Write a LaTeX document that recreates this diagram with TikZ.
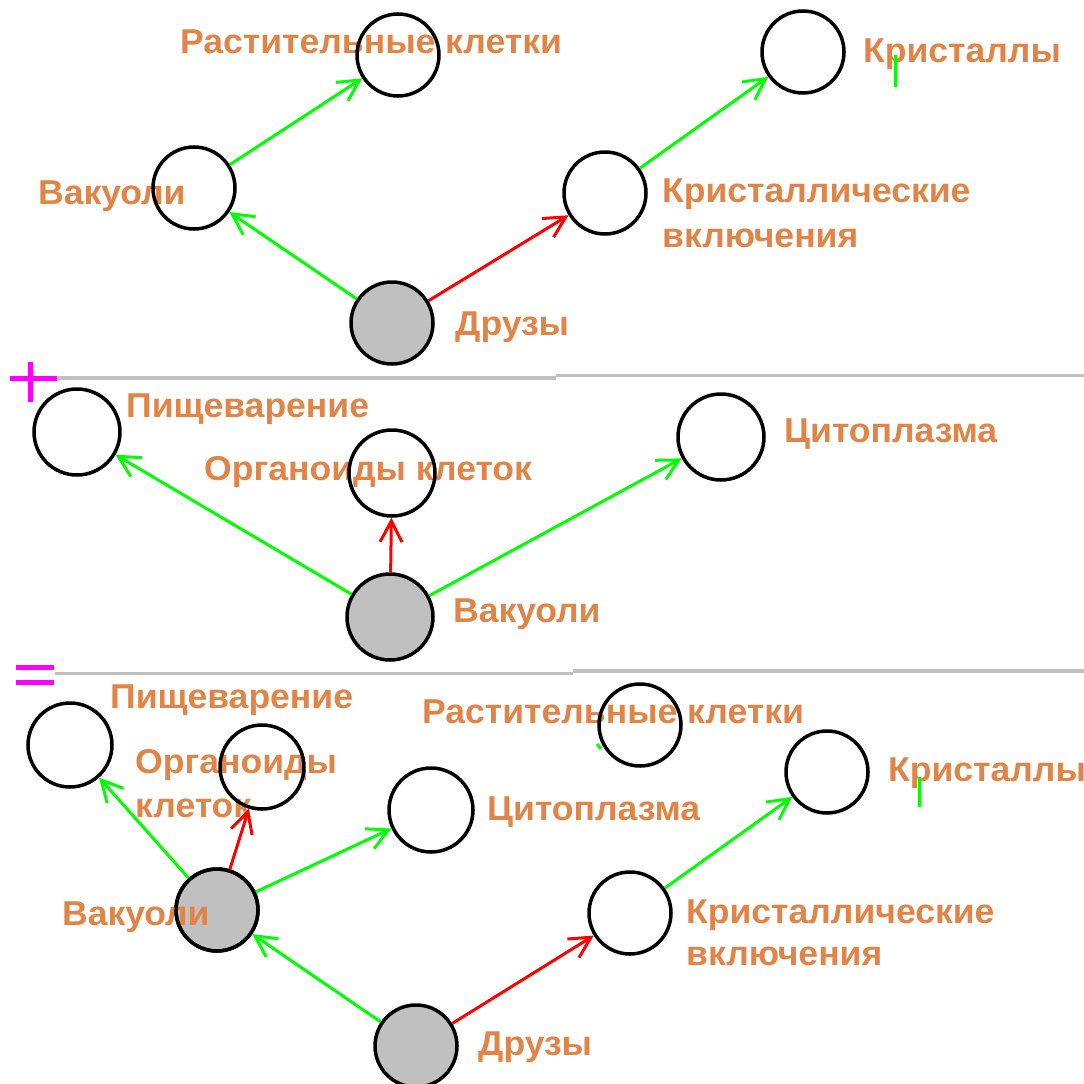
\documentclass[tikz,border=0pt]{standalone}
\usepackage{fontspec}
\setmainfont{Liberation Sans}[FakeStretch=1.03]
\usetikzlibrary{arrows.meta}
\definecolor{lbl}{RGB}{224,132,72}
\definecolor{grn}{RGB}{0,255,0}
\definecolor{rd}{RGB}{255,0,0}
\definecolor{sep}{RGB}{192,192,192}
\definecolor{mag}{RGB}{255,0,255}
\definecolor{fillg}{RGB}{192,192,192}
\tikzset{
  circ/.style={circle, draw=black, line width=3.5pt, minimum size=82pt, inner sep=0pt},
  bigcirc/.style={circ, minimum size=86pt},
  gcirc/.style={circ, fill=fillg},
  ring/.style={draw=black, line width=3.5pt},
  txt/.style={anchor=base west, inner sep=0pt, text=lbl, font=\fontsize{34.5}{40}\selectfont\bfseries},
  tipb/.tip={Straight Barb[length=21pt, width=22pt, line width=3pt]},
  garrow/.style={draw=grn, line width=3pt, -tipb},
  rarrow/.style={draw=rd, line width=3pt, -tipb},
  sepline/.style={draw=sep, line width=3.5pt},
  magline/.style={draw=mag, line width=5pt},
  tick/.style={draw=grn, line width=3pt}
}
\begin{document}
\begin{tikzpicture}[x=1pt, y=-1pt]
\useasboundingbox (0,0) rectangle (1084,1084);
\fill[white] (0,0) rectangle (1084,1084);

% gray circles first (text may lie over them)
\node[gcirc] (dru1) at (392,323) {};
\node[gcirc, minimum size=86pt] (vak2) at (390,617) {};
\node[gcirc] (vak3) at (217,910) {};
\node[gcirc] (dru3) at (416,1046) {};

% ---------- texts ----------
\node[txt] (trast1) at (180,53) {Растительные клетки};
\node[txt] (tvak1) at (38,204) {Вакуоли};
\node[txt] (tdru1) at (455,335) {Друзы};
\node[txt] (tkris1) at (863,62) {Кристаллы};
\node[txt] (tkv1a) at (662,202) {Кристаллические};
\node[txt] (tkv1b) at (662,247) {включения};

\node[txt] (tpis2) at (126,417) {Пищеварение};
\node[txt] (torg2) at (204,480) {Органоиды клеток};
\node[txt] (tcit2) at (784,442) {Цитоплазма};
\node[txt] (tvak2) at (453,622) {Вакуоли};

\node[txt] (tpis3) at (110,708) {Пищеварение};
\node[txt] (torg3a) at (135,773) {Органоиды};
\node[txt] (torg3b) at (135,817) {клеток};
\node[txt] (tcit3) at (487,820) {Цитоплазма};
\node[txt] (trast3) at (422,723) {Растительные клетки};
\node[txt] (tkris3) at (888,781) {Кристаллы};
\node[txt] (tkv3a) at (686,923) {Кристаллические};
\node[txt] (tkv3b) at (686,965) {включения};
\node[txt] (tvak3) at (62,925) {Вакуоли};
\node[txt] (tdru3) at (478,1055) {Друзы};

% outline of the gray circle that text overlaps
\draw[ring] (vak3.center) circle[radius=41pt];

% ---------- Panel 1 ----------
\node[circ] (rast1) at (398,55) {};
\node[circ] (vak1) at (194,188) {};
\node[circ] (kris1) at (803,52) {};
\node[circ] (kv1) at (605,193) {};

\coordinate (tk1a) at (895,55);
\coordinate (tk1b) at (895,87);
\draw[tick] (tk1a) -- (tk1b);

\draw[garrow] (vak1) -- (rast1);
\draw[garrow] (dru1) -- (vak1);
\draw[rarrow] (dru1) -- (kv1);
\draw[garrow] (kv1) -- (kris1);

% ---------- separator 1 ----------
\coordinate (s1a) at (58,378);
\coordinate (s1b) at (556,378);
\coordinate (s1c) at (556,375.5);
\coordinate (s1d) at (1084,375.5);
\draw[sepline] (s1a) -- (s1b);
\draw[sepline] (s1c) -- (s1d);
\coordinate (p1) at (10,378);
\coordinate (p2) at (57,378);
\coordinate (p3) at (30,362);
\coordinate (p4) at (30,402);
\draw[magline] (p1) -- (p2);
\draw[magline] (p3) -- (p4);

% ---------- Panel 2 ----------
\node[bigcirc] (pis2) at (77,432) {};
\node[bigcirc] (org2) at (392,473) {};
\node[bigcirc] (cit2) at (721,437) {};

\draw[garrow] (vak2) -- (pis2);
\draw[rarrow] (vak2) -- (org2);
\draw[garrow] (vak2) -- (cit2);

% ---------- separator 2 ----------
\coordinate (s2a) at (55,673.5);
\coordinate (s2b) at (573,673.5);
\coordinate (s2c) at (573,671);
\coordinate (s2d) at (1084,671);
\draw[sepline] (s2a) -- (s2b);
\draw[sepline] (s2c) -- (s2d);
\coordinate (e1) at (16,667);
\coordinate (e2) at (54,667);
\coordinate (e3) at (16,682);
\coordinate (e4) at (54,682);
\draw[magline] (e1) -- (e2);
\draw[magline] (e3) -- (e4);

% ---------- Panel 3 ----------
\node[circ, minimum size=84pt] (pis3) at (70,745) {};
\node[circ, minimum size=84pt] (org3) at (262,767) {};
\node[circ, minimum size=84pt] (cit3) at (431,810) {};
\node[circ] (rast3) at (640,725) {};
\node[circ] (kris3) at (827,772) {};
\node[circ] (kv3) at (630,913) {};

\coordinate (tk3a) at (919,777);
\coordinate (tk3b) at (919,807);
\draw[tick] (tk3a) -- (tk3b);
\coordinate (gm1) at (597,744);
\coordinate (gm2) at (601,749);
\draw[tick] (gm1) -- (gm2);

\draw[garrow] (vak3) -- (pis3);
\draw[rarrow] (vak3) -- (org3);
\draw[garrow] (vak3) -- (cit3);
\draw[garrow] (dru3) -- (vak3);
\draw[rarrow] (dru3) -- (kv3);
\draw[garrow] (kv3) -- (kris3);
\end{tikzpicture}
\end{document}
